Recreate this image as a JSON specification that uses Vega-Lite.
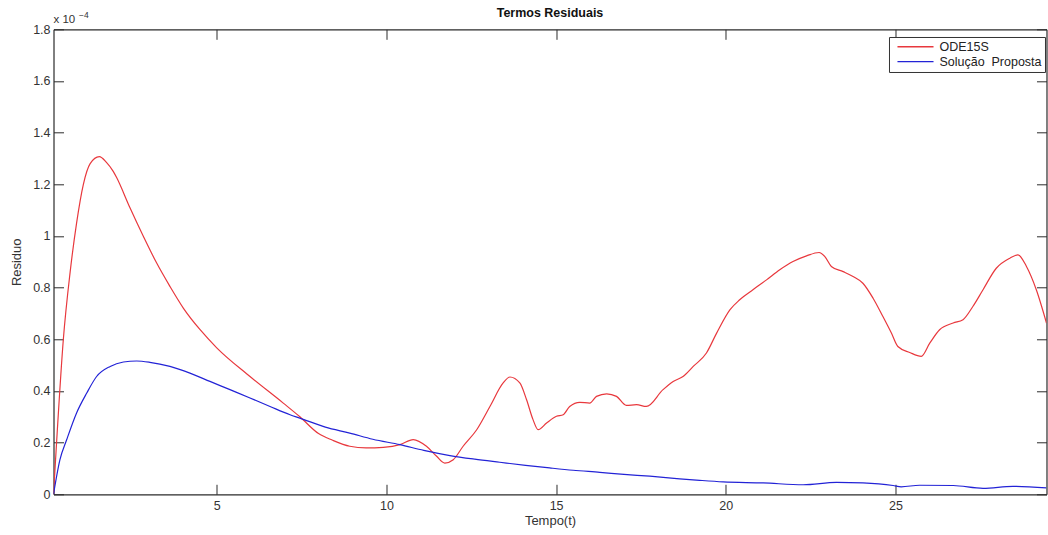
{
  "$schema": "https://vega.github.io/schema/vega-lite/v6.json",
  "width": 993,
  "height": 465,
  "autosize": {"type": "none"},
  "padding": {"left": 53.5, "top": 29.3, "right": 1.3, "bottom": 40.3},
  "background": "white",
  "config": {
    "font": "Liberation Sans",
    "view": {"stroke": null},
    "axis": {
      "grid": false,
      "domainColor": "#2b2b2b",
      "domainWidth": 1.2,
      "tickColor": "#2b2b2b",
      "tickSize": -10,
      "tickWidth": 1,
      "labelFont": "Liberation Sans",
      "labelFontSize": 12.5,
      "labelColor": "#333333",
      "titleFont": "Liberation Sans",
      "titleFontSize": 13,
      "titleFontWeight": "normal",
      "titleColor": "#333333"
    },
    "legend": {
      "orient": "none",
      "legendX": 835.5,
      "legendY": 7.7,
      "strokeColor": "#333333",
      "fillColor": "white",
      "padding": 3,
      "cornerRadius": 0,
      "labelFont": "Liberation Sans",
      "labelFontSize": 12.5,
      "labelColor": "#222222",
      "labelOffset": 5,
      "symbolType": "stroke",
      "symbolSize": 1300,
      "symbolStrokeWidth": 1.3,
      "symbolOffset": 4.5,
      "clipHeight": 13.5,
      "rowPadding": 0.8,
      "title": null
    }
  },
  "title": {
    "text": "Termos Residuais",
    "font": "Liberation Sans",
    "fontSize": 12.5,
    "fontWeight": "bold",
    "color": "#111111",
    "anchor": "middle",
    "offset": -9
  },
  "datasets": {
    "residuos": [
      {"t": 0.19, "residuo": 0.0, "serie": "ODE15S"},
      {"t": 0.285, "residuo": 0.21, "serie": "ODE15S"},
      {"t": 0.48, "residuo": 0.6, "serie": "ODE15S"},
      {"t": 0.68, "residuo": 0.86, "serie": "ODE15S"},
      {"t": 0.87, "residuo": 1.05, "serie": "ODE15S"},
      {"t": 1.07, "residuo": 1.2, "serie": "ODE15S"},
      {"t": 1.27, "residuo": 1.28, "serie": "ODE15S"},
      {"t": 1.54, "residuo": 1.307, "serie": "ODE15S"},
      {"t": 1.75, "residuo": 1.285, "serie": "ODE15S"},
      {"t": 1.95, "residuo": 1.25, "serie": "ODE15S"},
      {"t": 2.05, "residuo": 1.226, "serie": "ODE15S"},
      {"t": 2.44, "residuo": 1.11, "serie": "ODE15S"},
      {"t": 2.84, "residuo": 0.998, "serie": "ODE15S"},
      {"t": 3.23, "residuo": 0.895, "serie": "ODE15S"},
      {"t": 3.62, "residuo": 0.805, "serie": "ODE15S"},
      {"t": 4.02, "residuo": 0.72, "serie": "ODE15S"},
      {"t": 4.51, "residuo": 0.637, "serie": "ODE15S"},
      {"t": 5.0, "residuo": 0.567, "serie": "ODE15S"},
      {"t": 5.98, "residuo": 0.456, "serie": "ODE15S"},
      {"t": 6.96, "residuo": 0.353, "serie": "ODE15S"},
      {"t": 7.45, "residuo": 0.3, "serie": "ODE15S"},
      {"t": 8.0, "residuo": 0.235, "serie": "ODE15S"},
      {"t": 8.4, "residuo": 0.21, "serie": "ODE15S"},
      {"t": 8.92, "residuo": 0.186, "serie": "ODE15S"},
      {"t": 9.4, "residuo": 0.18, "serie": "ODE15S"},
      {"t": 9.91, "residuo": 0.182, "serie": "ODE15S"},
      {"t": 10.4, "residuo": 0.192, "serie": "ODE15S"},
      {"t": 10.79, "residuo": 0.212, "serie": "ODE15S"},
      {"t": 11.18, "residuo": 0.186, "serie": "ODE15S"},
      {"t": 11.48, "residuo": 0.147, "serie": "ODE15S"},
      {"t": 11.72, "residuo": 0.121, "serie": "ODE15S"},
      {"t": 11.97, "residuo": 0.134, "serie": "ODE15S"},
      {"t": 12.26, "residuo": 0.186, "serie": "ODE15S"},
      {"t": 12.66, "residuo": 0.25, "serie": "ODE15S"},
      {"t": 13.05, "residuo": 0.34, "serie": "ODE15S"},
      {"t": 13.44, "residuo": 0.431, "serie": "ODE15S"},
      {"t": 13.64, "residuo": 0.454, "serie": "ODE15S"},
      {"t": 13.93, "residuo": 0.431, "serie": "ODE15S"},
      {"t": 14.13, "residuo": 0.366, "serie": "ODE15S"},
      {"t": 14.32, "residuo": 0.289, "serie": "ODE15S"},
      {"t": 14.47, "residuo": 0.25, "serie": "ODE15S"},
      {"t": 14.72, "residuo": 0.276, "serie": "ODE15S"},
      {"t": 15.01, "residuo": 0.302, "serie": "ODE15S"},
      {"t": 15.21, "residuo": 0.308, "serie": "ODE15S"},
      {"t": 15.4, "residuo": 0.34, "serie": "ODE15S"},
      {"t": 15.7, "residuo": 0.356, "serie": "ODE15S"},
      {"t": 15.99, "residuo": 0.353, "serie": "ODE15S"},
      {"t": 16.19, "residuo": 0.379, "serie": "ODE15S"},
      {"t": 16.49, "residuo": 0.389, "serie": "ODE15S"},
      {"t": 16.78, "residuo": 0.379, "serie": "ODE15S"},
      {"t": 17.07, "residuo": 0.344, "serie": "ODE15S"},
      {"t": 17.37, "residuo": 0.347, "serie": "ODE15S"},
      {"t": 17.66, "residuo": 0.34, "serie": "ODE15S"},
      {"t": 18.15, "residuo": 0.405, "serie": "ODE15S"},
      {"t": 18.45, "residuo": 0.437, "serie": "ODE15S"},
      {"t": 18.74, "residuo": 0.456, "serie": "ODE15S"},
      {"t": 19.04, "residuo": 0.495, "serie": "ODE15S"},
      {"t": 19.43, "residuo": 0.547, "serie": "ODE15S"},
      {"t": 19.73, "residuo": 0.624, "serie": "ODE15S"},
      {"t": 20.12, "residuo": 0.714, "serie": "ODE15S"},
      {"t": 20.41, "residuo": 0.753, "serie": "ODE15S"},
      {"t": 20.8, "residuo": 0.792, "serie": "ODE15S"},
      {"t": 21.2, "residuo": 0.83, "serie": "ODE15S"},
      {"t": 21.59, "residuo": 0.869, "serie": "ODE15S"},
      {"t": 21.98, "residuo": 0.901, "serie": "ODE15S"},
      {"t": 22.38, "residuo": 0.923, "serie": "ODE15S"},
      {"t": 22.75, "residuo": 0.936, "serie": "ODE15S"},
      {"t": 22.92, "residuo": 0.92, "serie": "ODE15S"},
      {"t": 23.11, "residuo": 0.882, "serie": "ODE15S"},
      {"t": 23.46, "residuo": 0.862, "serie": "ODE15S"},
      {"t": 23.75, "residuo": 0.843, "serie": "ODE15S"},
      {"t": 24.04, "residuo": 0.817, "serie": "ODE15S"},
      {"t": 24.34, "residuo": 0.759, "serie": "ODE15S"},
      {"t": 24.63, "residuo": 0.688, "serie": "ODE15S"},
      {"t": 24.88, "residuo": 0.624, "serie": "ODE15S"},
      {"t": 25.07, "residuo": 0.572, "serie": "ODE15S"},
      {"t": 25.42, "residuo": 0.549, "serie": "ODE15S"},
      {"t": 25.76, "residuo": 0.534, "serie": "ODE15S"},
      {"t": 26.01, "residuo": 0.585, "serie": "ODE15S"},
      {"t": 26.3, "residuo": 0.637, "serie": "ODE15S"},
      {"t": 26.7, "residuo": 0.663, "serie": "ODE15S"},
      {"t": 26.99, "residuo": 0.676, "serie": "ODE15S"},
      {"t": 27.28, "residuo": 0.727, "serie": "ODE15S"},
      {"t": 27.58, "residuo": 0.792, "serie": "ODE15S"},
      {"t": 27.97, "residuo": 0.875, "serie": "ODE15S"},
      {"t": 28.37, "residuo": 0.914, "serie": "ODE15S"},
      {"t": 28.61, "residuo": 0.927, "serie": "ODE15S"},
      {"t": 28.86, "residuo": 0.882, "serie": "ODE15S"},
      {"t": 29.15, "residuo": 0.792, "serie": "ODE15S"},
      {"t": 29.45, "residuo": 0.663, "serie": "ODE15S"},
      {"t": 0.19, "residuo": 0.0, "serie": "Solução Proposta"},
      {"t": 0.38, "residuo": 0.134, "serie": "Solução Proposta"},
      {"t": 0.58, "residuo": 0.212, "serie": "Solução Proposta"},
      {"t": 0.87, "residuo": 0.315, "serie": "Solução Proposta"},
      {"t": 1.17, "residuo": 0.392, "serie": "Solução Proposta"},
      {"t": 1.46, "residuo": 0.456, "serie": "Solução Proposta"},
      {"t": 1.86, "residuo": 0.495, "serie": "Solução Proposta"},
      {"t": 2.25, "residuo": 0.512, "serie": "Solução Proposta"},
      {"t": 2.64, "residuo": 0.516, "serie": "Solução Proposta"},
      {"t": 3.03, "residuo": 0.511, "serie": "Solução Proposta"},
      {"t": 3.62, "residuo": 0.495, "serie": "Solução Proposta"},
      {"t": 4.21, "residuo": 0.469, "serie": "Solução Proposta"},
      {"t": 4.8, "residuo": 0.437, "serie": "Solução Proposta"},
      {"t": 5.39, "residuo": 0.405, "serie": "Solução Proposta"},
      {"t": 5.98, "residuo": 0.373, "serie": "Solução Proposta"},
      {"t": 6.57, "residuo": 0.34, "serie": "Solução Proposta"},
      {"t": 7.16, "residuo": 0.308, "serie": "Solução Proposta"},
      {"t": 7.45, "residuo": 0.295, "serie": "Solução Proposta"},
      {"t": 8.2, "residuo": 0.26, "serie": "Solução Proposta"},
      {"t": 8.92, "residuo": 0.237, "serie": "Solução Proposta"},
      {"t": 9.6, "residuo": 0.213, "serie": "Solução Proposta"},
      {"t": 10.4, "residuo": 0.192, "serie": "Solução Proposta"},
      {"t": 11.1, "residuo": 0.17, "serie": "Solução Proposta"},
      {"t": 11.87, "residuo": 0.15, "serie": "Solução Proposta"},
      {"t": 12.6, "residuo": 0.136, "serie": "Solução Proposta"},
      {"t": 13.34, "residuo": 0.124, "serie": "Solução Proposta"},
      {"t": 14.1, "residuo": 0.112, "serie": "Solução Proposta"},
      {"t": 14.81, "residuo": 0.102, "serie": "Solução Proposta"},
      {"t": 15.5, "residuo": 0.093, "serie": "Solução Proposta"},
      {"t": 16.29, "residuo": 0.085, "serie": "Solução Proposta"},
      {"t": 17.0, "residuo": 0.077, "serie": "Solução Proposta"},
      {"t": 17.76, "residuo": 0.07, "serie": "Solução Proposta"},
      {"t": 18.64, "residuo": 0.06, "serie": "Solução Proposta"},
      {"t": 19.23, "residuo": 0.054, "serie": "Solução Proposta"},
      {"t": 19.92, "residuo": 0.048, "serie": "Solução Proposta"},
      {"t": 21.1, "residuo": 0.044, "serie": "Solução Proposta"},
      {"t": 22.28, "residuo": 0.037, "serie": "Solução Proposta"},
      {"t": 23.26, "residuo": 0.046, "serie": "Solução Proposta"},
      {"t": 24.04, "residuo": 0.044, "serie": "Solução Proposta"},
      {"t": 24.93, "residuo": 0.034, "serie": "Solução Proposta"},
      {"t": 25.17, "residuo": 0.029, "serie": "Solução Proposta"},
      {"t": 25.71, "residuo": 0.035, "serie": "Solução Proposta"},
      {"t": 26.7, "residuo": 0.034, "serie": "Solução Proposta"},
      {"t": 27.58, "residuo": 0.023, "serie": "Solução Proposta"},
      {"t": 28.46, "residuo": 0.031, "serie": "Solução Proposta"},
      {"t": 29.45, "residuo": 0.025, "serie": "Solução Proposta"}
    ]
  },
  "layer": [
    {
      "data": {"name": "residuos"},
      "mark": {"type": "line", "interpolate": "monotone", "strokeWidth": 1.2, "clip": true},
      "encoding": {
        "x": {
          "field": "t",
          "type": "quantitative",
          "scale": {"domain": [0.19, 29.45], "nice": false, "zero": false},
          "axis": {"orient": "bottom", "values": [5, 10, 15, 20, 25], "title": "Tempo(t)", "labelPadding": 15, "titlePadding": 3}
        },
        "y": {
          "field": "residuo",
          "type": "quantitative",
          "scale": {"domain": [0, 1.8], "nice": false},
          "axis": {"orient": "left", "values": [0, 0.2, 0.4, 0.6, 0.8, 1, 1.2, 1.4, 1.6, 1.8], "format": ".1~f", "title": "Residuo", "labelPadding": 13.5, "titlePadding": 9}
        },
        "color": {
          "field": "serie",
          "type": "nominal",
          "sort": ["ODE15S", "Solução Proposta"],
          "scale": {"domain": ["ODE15S", "Solução Proposta"], "range": ["#e8383d", "#2323d6"]},
          "legend": {"labelExpr": "replace(datum.label, ' ', '\u00a0 ')"}
        }
      }
    },
    {
      "data": {"name": "residuos"},
      "mark": {"type": "line", "opacity": 0, "clip": true},
      "encoding": {
        "x": {"field": "t", "type": "quantitative", "axis": {"orient": "top", "values": [5, 10, 15, 20, 25], "labels": false, "title": null}},
        "y": {"field": "residuo", "type": "quantitative", "axis": {"orient": "right", "values": [0, 0.2, 0.4, 0.6, 0.8, 1, 1.2, 1.4, 1.6, 1.8], "labels": false, "title": null}},
        "detail": {"field": "serie"}
      }
    },
    {
      "data": {"values": [{"rotulo": "x 10"}]},
      "mark": {"type": "text", "align": "left", "baseline": "middle", "fontSize": 11.5, "color": "#333333", "dy": -9.5},
      "encoding": {
        "text": {"field": "rotulo"},
        "x": {"datum": 0.19, "type": "quantitative", "axis": null},
        "y": {"datum": 1.8, "type": "quantitative", "axis": null}
      }
    },
    {
      "data": {"values": [{"rotulo": "−4"}]},
      "mark": {"type": "text", "align": "left", "baseline": "middle", "fontSize": 8.5, "color": "#333333", "dx": 25.5, "dy": -14.5},
      "encoding": {
        "text": {"field": "rotulo"},
        "x": {"datum": 0.19, "type": "quantitative", "axis": null},
        "y": {"datum": 1.8, "type": "quantitative", "axis": null}
      }
    }
  ],
  "resolve": {"axis": {"x": "independent", "y": "independent"}}
}
